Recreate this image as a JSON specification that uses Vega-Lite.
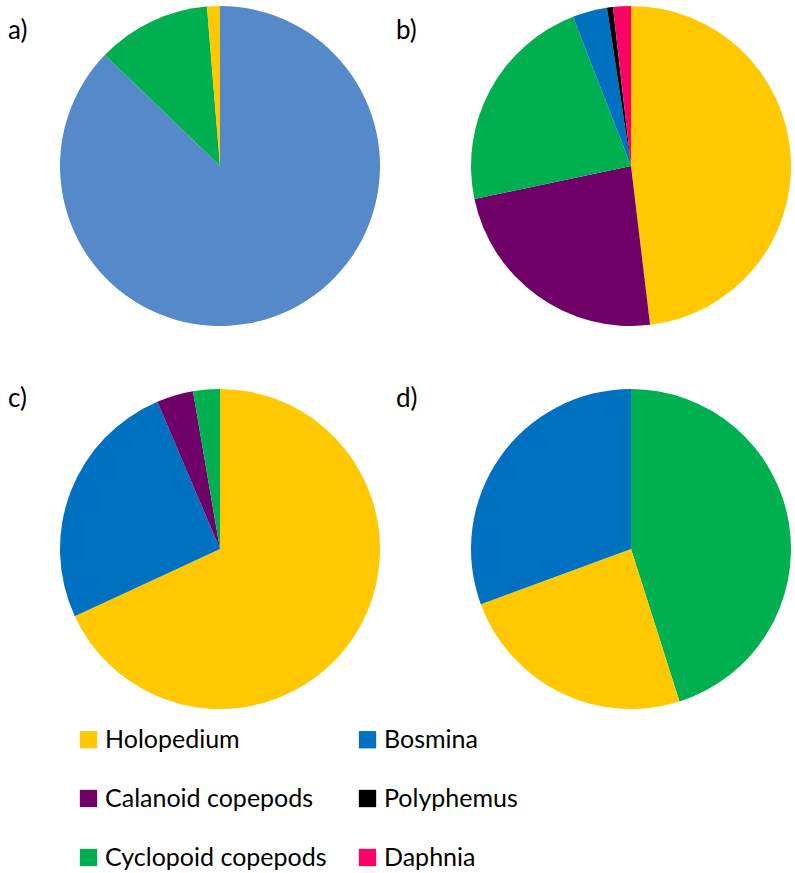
{
  "$schema": "https://vega.github.io/schema/vega-lite/v6.json",
  "width": 795,
  "height": 873,
  "padding": 0,
  "autosize": {"type": "pad"},
  "background": "white",
  "config": {"view": {"stroke": null}},
  "datasets": {
    "slices": [
      {"panel": "a", "col": 0, "row": 0, "order": 1, "taxon": "Other", "pct": 87.2},
      {"panel": "a", "col": 0, "row": 0, "order": 2, "taxon": "Cyclopoid copepods", "pct": 11.5},
      {"panel": "a", "col": 0, "row": 0, "order": 3, "taxon": "Holopedium", "pct": 1.3},
      {"panel": "b", "col": 1, "row": 0, "order": 1, "taxon": "Holopedium", "pct": 48.1},
      {"panel": "b", "col": 1, "row": 0, "order": 2, "taxon": "Calanoid copepods", "pct": 23.6},
      {"panel": "b", "col": 1, "row": 0, "order": 3, "taxon": "Cyclopoid copepods", "pct": 22.4},
      {"panel": "b", "col": 1, "row": 0, "order": 4, "taxon": "Bosmina", "pct": 3.5},
      {"panel": "b", "col": 1, "row": 0, "order": 5, "taxon": "Polyphemus", "pct": 0.6},
      {"panel": "b", "col": 1, "row": 0, "order": 6, "taxon": "Daphnia", "pct": 1.8},
      {"panel": "c", "col": 0, "row": 1, "order": 1, "taxon": "Holopedium", "pct": 68.1},
      {"panel": "c", "col": 0, "row": 1, "order": 2, "taxon": "Bosmina", "pct": 25.5},
      {"panel": "c", "col": 0, "row": 1, "order": 3, "taxon": "Calanoid copepods", "pct": 3.7},
      {"panel": "c", "col": 0, "row": 1, "order": 4, "taxon": "Cyclopoid copepods", "pct": 2.7},
      {"panel": "d", "col": 1, "row": 1, "order": 1, "taxon": "Cyclopoid copepods", "pct": 45.1},
      {"panel": "d", "col": 1, "row": 1, "order": 2, "taxon": "Holopedium", "pct": 24.3},
      {"panel": "d", "col": 1, "row": 1, "order": 3, "taxon": "Bosmina", "pct": 30.6}
    ],
    "labels": [
      {"panel": "a", "col": 0, "row": 0, "label": "a)"},
      {"panel": "b", "col": 1, "row": 0, "label": "b)"},
      {"panel": "c", "col": 0, "row": 1, "label": "c)"},
      {"panel": "d", "col": 1, "row": 1, "label": "d)"}
    ]
  },
  "layer": [
    {
      "data": {"name": "slices"},
      "transform": [
        {"stack": "pct", "groupby": ["panel"], "sort": [{"field": "order", "order": "ascending"}], "as": ["t0", "t1"]}
      ],
      "mark": {"type": "arc", "outerRadius": 160, "strokeWidth": 0},
      "encoding": {
        "x": {"field": "col", "type": "quantitative", "scale": {"domain": [0, 1], "range": [220, 631]}, "axis": null},
        "y": {"field": "row", "type": "quantitative", "scale": {"domain": [0, 1], "range": [166, 549]}, "axis": null},
        "theta": {"field": "t0", "type": "quantitative", "stack": null, "scale": {"domain": [0, 100], "range": [0, 6.283185307179586]}},
        "theta2": {"field": "t1"},
        "color": {
          "field": "taxon",
          "type": "nominal",
          "scale": {
            "domain": ["Holopedium", "Bosmina", "Calanoid copepods", "Polyphemus", "Cyclopoid copepods", "Daphnia", "Other"],
            "range": ["#FFC800", "#0070C0", "#6E0068", "#000000", "#00B050", "#FF0066", "#5589C9"]
          },
          "legend": {
            "orient": "none",
            "legendX": 76,
            "legendY": 727,
            "columns": 2,
            "values": ["Holopedium", "Calanoid copepods", "Cyclopoid copepods", "Bosmina", "Polyphemus", "Daphnia"],
            "title": null,
            "symbolType": "square",
            "symbolSize": 300,
            "symbolStrokeWidth": 0,
            "symbolOpacity": 1,
            "labelFont": "Lato",
            "labelFontSize": 25,
            "labelColor": "black",
            "labelOffset": 4,
            "labelLimit": 400,
            "rowPadding": 33,
            "columnPadding": 28,
            "gridAlign": "each",
            "padding": 0
          }
        }
      }
    },
    {
      "data": {"name": "labels"},
      "mark": {"type": "text", "align": "left", "baseline": "middle", "font": "Lato", "fontSize": 26, "color": "black"},
      "encoding": {
        "x": {"field": "col", "type": "quantitative", "scale": {"domain": [0, 1], "range": [8, 396]}, "axis": null},
        "y": {"field": "row", "type": "quantitative", "scale": {"domain": [0, 1], "range": [31, 399]}, "axis": null},
        "text": {"field": "label"}
      }
    }
  ],
  "resolve": {"scale": {"x": "independent", "y": "independent"}}
}
